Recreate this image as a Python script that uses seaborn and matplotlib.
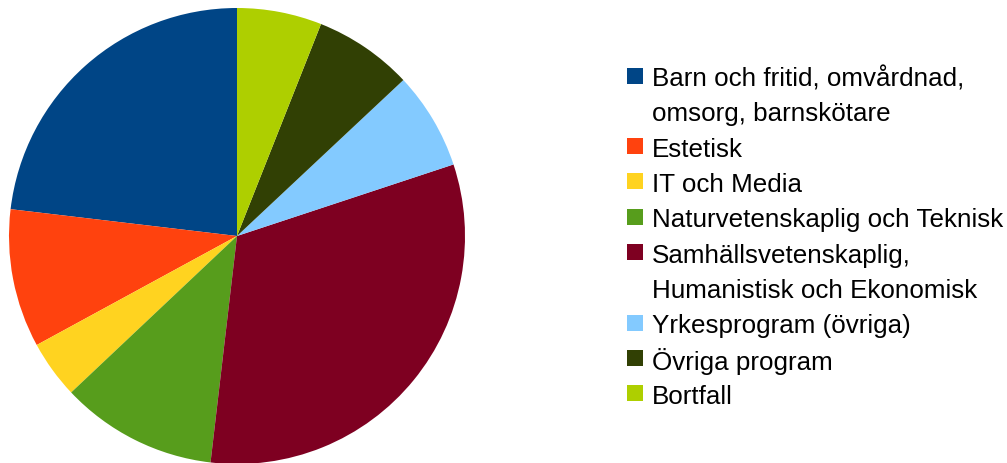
import numpy as np
import seaborn as sns
import matplotlib.pyplot as plt
from matplotlib.patches import Rectangle

###DATA###
labels = ['Barn och fritid, omvårdnad,\nomsorg, barnskötare',
          'Estetisk',
          'IT och Media',
          'Naturvetenskaplig och Teknisk',
          'Samhällsvetenskaplig,\nHumanistisk och Ekonomisk',
          'Yrkesprogram (övriga)',
          'Övriga program',
          'Bortfall']
shares = [23.1, 9.8, 4.1, 11.1, 31.9, 6.9, 7.0, 6.0]
colors = ['#004586', '#ff420e', '#ffd320', '#579d1c',
          '#7e0021', '#83caff', '#314004', '#aecf00']

###SETUP###
sns.set_theme(style='white')
plt.rcParams['font.family'] = ['Liberation Sans', 'DejaVu Sans']

W, H = 1007, 464
fig = plt.figure(figsize=(W / 100, H / 100), dpi=100)

# pie: center (237,237) px, radius 228 px
cx, cy, r = 237, 237, 228
ax = fig.add_axes([(cx - r) / W, (H - cy - r) / H, 2 * r / W, 2 * r / H])
ax.pie(shares, colors=colors, startangle=90, counterclock=True,
       radius=1, wedgeprops=dict(linewidth=0))
ax.set_xlim(-1, 1)
ax.set_ylim(-1, 1)
ax.set_aspect('equal')
ax.axis('off')

###LEGEND (drawn by hand so the marker sits on the first line)###
line_h = 35.3
y0 = 76.5
sq = 16
i = 0
for lab, col in zip(labels, colors):
    yc = y0 + line_h * i
    fig.patches.append(Rectangle((627 / W, (H - yc - sq / 2) / H), sq / W, sq / H,
                                 transform=fig.transFigure, facecolor=col,
                                 edgecolor='none'))
    for ln in lab.split('\n'):
        yy = y0 + line_h * i
        fig.text(652 / W, (H - yy) / H, ln, fontsize=18.7, color='black',
                 va='center_baseline', ha='left')
        i += 1

fig.savefig('out.png', dpi=100)
